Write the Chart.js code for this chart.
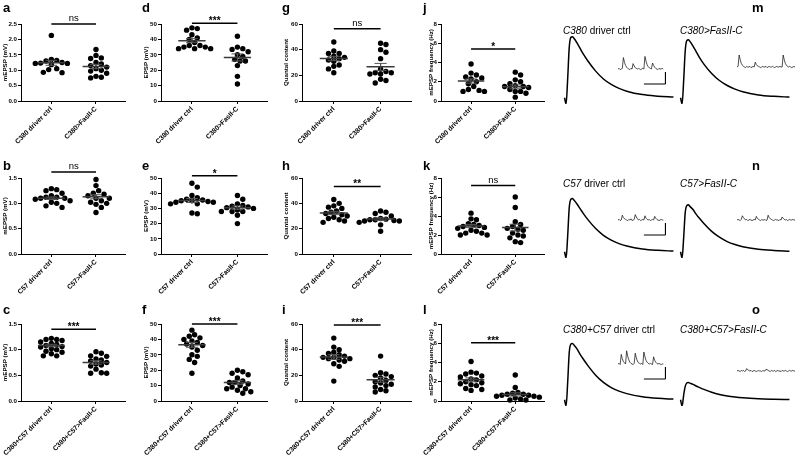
<!DOCTYPE html>
<html><head><meta charset="utf-8">
<script src="https://cdn.jsdelivr.net/npm/chart.js@4"></script>
<style>
html,body{margin:0;padding:0;background:#fff;}
body{width:800px;height:458px;position:relative;overflow:hidden;font-family:"Liberation Sans",Arial,sans-serif;}
canvas{position:absolute;}
.lt{position:absolute;font-weight:bold;font-size:13px;line-height:13px;color:#000;}
.gt{position:absolute;font-size:10px;line-height:10px;color:#000;white-space:nowrap;}
.gt i{font-style:italic;}
</style></head><body>
<script>
// ---------------- DATA ----------------
const labC380 = ['C380 driver ctrl', 'C380>FasII-C'];
const labC57 = ['C57 driver ctrl', 'C57>FasII-C'];
const labBoth = ['C380+C57 driver ctrl', 'C380+C57>FasII-C'];
const yTitles = ['mEPSP (mV)', 'EPSP (mV)', 'Quantal content', 'mEPSP frequency (Hz)'];

// panel a  (mEPSP, C380)
const a_ctrl = [2.13,1.35,1.32,1.30,1.25,1.23,1.22,1.22,1.18,1.05,1.02,0.93,0.92];
const a_fas  = [1.67,1.48,1.40,1.38,1.25,1.20,1.15,1.10,1.05,1.00,0.97,0.90,0.80,0.77,0.75];
const a_mean = [1.24,1.12]; const a_sem = [0.08,0.07]; const a_sig = ['ns',2.5];
// panel d (EPSP, C380)
const d_ctrl = [47.5,47,46,43,41,40,38,36,35,35,34,34,34,36];
const d_fas  = [42,35,34,33.5,32,30,29,27,26,26,23,16,11];
const d_mean = [39.2,28.3]; const d_sem = [1.3,2.3]; const d_sig = ['***',50.5];
// panel g (QC, C380)
const g_ctrl = [46,39,37,37,35,34,33,32,31,28,27,25,22];
const g_fas  = [45,44,40,38,33,25,23,22,22,21,21,17,16,14];
const g_mean = [33.1,26.6]; const g_sem = [1.7,2.7]; const g_sig = ['ns',56.3];
// panel j (freq, C380)
const j_ctrl = [3.85,2.9,2.7,2.5,2.4,2.3,2.0,1.8,1.5,1.2,1.1,1.0,1.0];
const j_fas  = [3.0,2.7,2.2,2.0,1.8,1.6,1.5,1.5,1.4,1.2,1.0,1.0,0.8,0.4];
const j_mean = [2.07,1.47]; const j_sem = [0.22,0.2]; const j_sig = ['*',5.4];
// panel b (mEPSP, C57)
const b_ctrl = [1.29,1.27,1.25,1.2,1.15,1.12,1.12,1.1,1.1,1.08,1.05,1.02,1.0,0.95,0.92];
const b_fas  = [1.47,1.35,1.25,1.2,1.18,1.15,1.1,1.1,1.05,1.02,1.0,0.98,0.92,0.82];
const b_mean = [1.1,1.13]; const b_sem = [0.025,0.04]; const b_sig = ['ns',1.62];
// panel e (EPSP, C57)
const e_ctrl = [46.5,44,38.5,37,36,35.5,35,35,34.5,34,34,33,33,27,26.5];
const e_fas  = [38.5,36,33,32,31.5,31,30.5,30,29,28,28,28,25.5,20];
const e_mean = [35.2,30.5]; const e_sem = [1.3,1.1]; const e_sig = ['*',51.5];
// panel h (QC, C57)
const h_ctrl = [43,40,38,37,36,34,33,32,31,30,29,28,27,26,25];
const h_fas  = [34,33,32,30,28,27.5,27,27,26.5,26,26,25,23,18];
const h_mean = [32.4,27.6]; const h_sem = [1.3,1.0]; const h_sig = ['**',53.3];
// panel k (freq, C57)
const k_ctrl = [4.3,3.7,3.6,3.2,3.1,3.0,2.9,2.8,2.7,2.5,2.4,2.2,2.2,2.0,2.0];
const k_fas  = [6.0,4.9,3.4,3.1,2.9,2.7,2.6,2.5,2.2,2.0,1.9,1.7,1.3,1.2];
const k_mean = [2.95,2.78]; const k_sem = [0.17,0.35]; const k_sig = ['ns',7.2];
// panel c (mEPSP, C380+C57)
const c_ctrl = [1.22,1.2,1.2,1.18,1.15,1.12,1.1,1.08,1.06,1.05,1.02,1.0,0.97,0.95,0.92,0.88,0.88];
const c_fas  = [0.96,0.93,0.88,0.87,0.82,0.8,0.78,0.75,0.72,0.7,0.68,0.62,0.55,0.54,0.54];
const c_mean = [1.08,0.75]; const c_sem = [0.025,0.035]; const c_sig = ['***',1.40];
// panel f (EPSP, C380+C57)
const f_ctrl = [46,43,42,41,40,39,38,37,36,35,33,30,29,27,25,18];
const f_fas  = [20,19,18,17,15,13,12,12,11,10,9,8,8,7,6,5];
const f_mean = [36.5,12]; const f_sem = [1.6,1.2]; const f_sig = ['***',50];
// panel i (QC, C380+C57)
const i_ctrl = [49,42,40,38,37,36,35,34,34,33,33,32,31,29,27,15.5];
const i_fas  = [35,22,21,20,19,18,16,15,14,13,12,11,9,8,7];
const i_mean = [34.3,16.5]; const i_sem = [1.8,1.9]; const i_sig = ['***',59.2];
// panel l (freq, C380+C57)
const l_ctrl = [4.1,3.0,2.9,2.8,2.6,2.5,2.3,2.2,2.0,1.9,1.8,1.7,1.6,1.3,1.2,1.1];
const l_fas  = [2.7,1.4,0.9,0.8,0.7,0.7,0.6,0.6,0.5,0.5,0.4,0.3,0.2,0.1,0.1];
const l_mean = [2.2,0.68]; const l_sem = [0.2,0.17]; const l_sig = ['***',6.05];

// y axis ticks
const yMaxMepsp1 = 2.5, yMaxMepsp = 1.5, yMaxEpsp = 50, yMaxQc = 60, yMaxFreq = 8;
const yStepMepsp = 0.5, yStepEpsp = 10, yStepQc = 20, yStepFreq = 2;

// EPSP traces (time ms, voltage mV)
const traceT = [0,1,2,3,4,5,6,8,10,12,15,20,25,30,35,40,50,60,70];
const m_ctrl_tr = [0,-4,12,32,38.5,39,38,35,31.5,28,23.5,17,12,8.5,6,4.2,2,1,0.4];
const m_fas_tr  = [0,-4,11,30,36.5,37,36,33,29.5,26,21.5,15.5,11,7.8,5.5,3.8,1.8,0.9,0.4];
const n_ctrl_tr = [0,-4,10,28,33.5,34,33,30.5,27.5,24.5,20.5,14.8,10.5,7.4,5.2,3.7,1.8,0.9,0.4];
const n_fas_tr  = [0,-4,9,25,29.5,30,29,27,24,21.5,18,13,9.3,6.5,4.6,3.2,1.6,0.8,0.3];
const o_ctrl_tr = [0,-4,11,30,35.5,36,35,32.5,29,26,21.8,15.7,11.1,7.8,5.5,3.9,1.9,0.9,0.4];
const o_fas_tr  = [0,-4,3,8.5,10.7,11,10.6,9.8,8.8,7.9,6.6,4.8,3.4,2.4,1.7,1.2,0.6,0.3,0.1];
// spontaneous mEPSP insets (mV, 10 ms samples)
const m_ctrl_ins = [0,0.1,-0.1,0,0.1,1.9,1.1,0.6,0.3,0.1,0,-0.1,0.1,0,0.9,0.5,0.2,0.1,0,0.1,0,-0.1,0,0.1,0,2.1,1.3,0.7,0.4,0.2,0.1,0,1.0,0.6,0.3,0.1,0,-0.1,0.1,0,0,0.1,0];
const m_fas_ins  = [0,0.1,2.0,1.2,0.6,0.3,0.1,0,-0.1,0.1,0,0,0.1,-0.1,0,0.1,0,0.8,0.4,0.2,0.1,0,-0.1,0,0.1,0,0,0.1,-0.1,0,0.1,0,0,0.1,0,-0.1,0,0.1,0,0,0.1,0,0,2.0,1.2,0.6,0.3,0.1,0,0.1,0,-0.1,0,0.1,0];
const n_ctrl_ins = [0,0.1,-0.1,0,0.8,0.4,0.2,0.1,0,-0.1,0.1,0,0.2,-0.1,0,0.1,0.9,0.5,0.2,0,0.1,-0.1,0,0.1,0,0.7,0.3,0.1,0,0.1,-0.1,0,0.1,0,0.6,0.3,0.1,0,-0.1,0,0.1,0,0];
const n_fas_ins  = [0,0.1,0,-0.1,0.1,0.7,0.4,0.2,0,0.1,-0.1,0,0.1,0,-0.1,0,0.1,0,0.6,0.3,0.1,0,-0.1,0.1,0,0,0.1,-0.1,0,0.8,0.4,0.2,0.1,0,-0.1,0,0.1,0,0,-0.1,0.1,0,0.5,0.3,0.1,0,0.1,-0.1,0,0.1,0,0,0.1,0,0];
const o_ctrl_ins = [0,0.1,-0.1,1.6,0.9,0.4,0.2,0,2.2,1.3,0.7,0.3,0.1,0,-0.1,0.1,1.8,1.0,0.5,0.2,0.1,0,0.1,-0.1,2.0,1.2,0.6,0.3,0.1,0,0.1,0,-0.1,1.2,0.6,0.3,0.1,0,0.1,0,-0.1,0,0];
const o_fas_ins  = [0,0.1,0,-0.1,0.1,0,0.1,-0.1,0,0.4,0.2,0.1,0,0.1,-0.1,0,0.1,0,-0.1,0,0.1,0,0,-0.1,0.1,0,0,0.3,0.2,0.1,0,-0.1,0.1,0,0,0.1,-0.1,0,0.1,0,0,-0.1,0.1,0,0,0.1,0,-0.1,0,0.1,0,0,0.1,0,0];
const scaleBarMV = 2, scaleBarMS = 200;

// ---------------- LAYOUT ----------------
const F = '"Liberation Sans", Arial, sans-serif';
const X_MIN = -0.68, X_MAX = 1.65;
const colAxisX = [21,161,302,441], colYW = [19,18,19,13], colPlotW = [105,107,110,104];
const rowTop = [24,178,324], rowBot = [101,254,401];
const TOPPAD = 22, XH = 58, LEXTRA = 24;

const panels = [
  {ctrl:a_ctrl,fas:a_fas,mean:a_mean,sem:a_sem,sig:a_sig,lab:labC380,t:0,yMax:yMaxMepsp1,step:yStepMepsp,dec:1,col:0,row:0},
  {ctrl:d_ctrl,fas:d_fas,mean:d_mean,sem:d_sem,sig:d_sig,lab:labC380,t:1,yMax:yMaxEpsp,step:yStepEpsp,dec:0,col:1,row:0},
  {ctrl:g_ctrl,fas:g_fas,mean:g_mean,sem:g_sem,sig:g_sig,lab:labC380,t:2,yMax:yMaxQc,step:yStepQc,dec:0,col:2,row:0},
  {ctrl:j_ctrl,fas:j_fas,mean:j_mean,sem:j_sem,sig:j_sig,lab:labC380,t:3,yMax:yMaxFreq,step:yStepFreq,dec:0,col:3,row:0},
  {ctrl:b_ctrl,fas:b_fas,mean:b_mean,sem:b_sem,sig:b_sig,lab:labC57,t:0,yMax:yMaxMepsp,step:yStepMepsp,dec:1,col:0,row:1},
  {ctrl:e_ctrl,fas:e_fas,mean:e_mean,sem:e_sem,sig:e_sig,lab:labC57,t:1,yMax:yMaxEpsp,step:yStepEpsp,dec:0,col:1,row:1},
  {ctrl:h_ctrl,fas:h_fas,mean:h_mean,sem:h_sem,sig:h_sig,lab:labC57,t:2,yMax:yMaxQc,step:yStepQc,dec:0,col:2,row:1},
  {ctrl:k_ctrl,fas:k_fas,mean:k_mean,sem:k_sem,sig:k_sig,lab:labC57,t:3,yMax:yMaxFreq,step:yStepFreq,dec:0,col:3,row:1},
  {ctrl:c_ctrl,fas:c_fas,mean:c_mean,sem:c_sem,sig:c_sig,lab:labBoth,t:0,yMax:yMaxMepsp,step:yStepMepsp,dec:1,col:0,row:2},
  {ctrl:f_ctrl,fas:f_fas,mean:f_mean,sem:f_sem,sig:f_sig,lab:labBoth,t:1,yMax:yMaxEpsp,step:yStepEpsp,dec:0,col:1,row:2},
  {ctrl:i_ctrl,fas:i_fas,mean:i_mean,sem:i_sem,sig:i_sig,lab:labBoth,t:2,yMax:yMaxQc,step:yStepQc,dec:0,col:2,row:2},
  {ctrl:l_ctrl,fas:l_fas,mean:l_mean,sem:l_sem,sig:l_sig,lab:labBoth,t:3,yMax:yMaxFreq,step:yStepFreq,dec:0,col:3,row:2}
];

function addCanvas(left, top, w, h) {
  const cv = document.createElement('canvas');
  cv.width = w; cv.height = h;
  cv.style.left = left + 'px'; cv.style.top = top + 'px';
  cv.style.width = w + 'px'; cv.style.height = h + 'px';
  document.body.appendChild(cv);
  return cv;
}
function addText(cls, html, left, top) {
  const d = document.createElement('div');
  d.className = cls; d.innerHTML = html;
  d.style.left = left + 'px'; d.style.top = top + 'px';
  document.body.appendChild(d);
}

// horizontal layout of the dots (beeswarm, in pixels)
function swarm(values, pxPerY, dia) {
  const order = values.map((v,i)=>i).sort((p,q)=>values[q]-values[p]);
  const placed = [], off = new Array(values.length).fill(0);
  for (const i of order) {
    const yp = values[i]*pxPerY;
    for (let k=0;k<60;k++) {
      const s = k===0 ? 0 : (k%2 ? Math.ceil(k/2) : -k/2);
      const xp = s*dia*0.5;
      let ok = true;
      for (const q of placed) { const dx=q[0]-xp, dy=q[1]-yp; if (dx*dx+dy*dy < dia*dia*0.9) { ok=false; break; } }
      if (ok) { off[i]=xp; placed.push([xp,yp]); break; }
    }
  }
  return off;
}

const sigPlugin = {
  id: 'sig',
  afterDatasetsDraw(chart, args, opts) {
    if (!opts || !opts.text) return;
    const {ctx, scales:{x,y}} = chart;
    const px = (x.getPixelForValue(0)+x.getPixelForValue(1))/2;
    const py = y.getPixelForValue(opts.value);
    ctx.save();
    ctx.fillStyle = '#000'; ctx.textAlign = 'center'; ctx.textBaseline = 'alphabetic';
    if (opts.text === 'ns') { ctx.font = '9.5px ' + F; ctx.fillText('ns', px, py-3); }
    else { ctx.font = 'bold 10px ' + F; ctx.fillText(opts.text, px, py+1); }
    ctx.restore();
  }
};

panels.forEach(p => {
  const ax = colAxisX[p.col], yw = colYW[p.col], pw = colPlotW[p.col];
  const top = rowTop[p.row], ph = rowBot[p.row] - rowTop[p.row];
  const W = LEXTRA + yw + pw + 3, H = TOPPAD + ph + XH;
  const cv = addCanvas(ax - yw - LEXTRA, top - TOPPAD, W, H);
  const pxY = ph / p.yMax, pxX = pw / (X_MAX - X_MIN);
  const DIA = 5.4;
  const offC = swarm(p.ctrl, pxY, DIA), offF = swarm(p.fas, pxY, DIA);
  const pts = p.ctrl.map((v,i)=>({x: 0 + offC[i]/pxX, y: v}))
      .concat(p.fas.map((v,i)=>({x: 1 + offF[i]/pxX, y: v})));
  const MW = 0.3, CW = 0.13;
  const meanData = [], semData = [];
  [0,1].forEach(g => {
    const m = p.mean[g], s = p.sem[g];
    meanData.push({x:g-MW,y:m},{x:g+MW,y:m},{x:g,y:null});
    semData.push({x:g-CW,y:m+s},{x:g+CW,y:m+s},{x:g,y:null},
                 {x:g,y:m+s},{x:g,y:m-s},{x:g,y:null},
                 {x:g-CW,y:m-s},{x:g+CW,y:m-s},{x:g,y:null});
  });
  const sigData = [{x:0,y:p.sig[1]},{x:1,y:p.sig[1]}];
  const common = {showLine:true, pointRadius:0, clip:false, spanGaps:false, fill:false};
  new Chart(cv, {
    type: 'scatter',
    data: { datasets: [
      Object.assign({data: meanData, borderColor:'#3a3a3a', borderWidth:1.5}, common),
      Object.assign({data: semData, borderColor:'#555', borderWidth:1}, common),
      Object.assign({data: sigData, borderColor:'#000', borderWidth:1.5}, common),
      {data: pts, pointRadius:2.7, pointBackgroundColor:'#000', pointBorderWidth:0, backgroundColor:'#000', showLine:false, clip:false}
    ]},
    options: {
      responsive:false, animation:false, events:[],
      layout: {padding:{top:TOPPAD, left:LEXTRA, right:3, bottom:0}},
      plugins: {legend:{display:false}, tooltip:{enabled:false}, sig:{text:p.sig[0], value:p.sig[1]}},
      scales: {
        x: {type:'linear', min:X_MIN, max:X_MAX,
          afterBuildTicks: s => { s.ticks = [{value:0},{value:1}]; },
          afterFit: s => { s.height = XH; s.paddingLeft = 0; s.paddingRight = 0; },
          ticks: {callback: v => p.lab[Math.round(v)], minRotation:45, maxRotation:45, autoSkip:false,
                  font:{size:6.8, weight:'bold', family:F}, color:'#000', padding:1},
          grid: {drawOnChartArea:false, drawTicks:true, tickLength:3, color:'#000', lineWidth:1},
          border: {display:true, color:'#000', width:1}},
        y: {type:'linear', min:0, max:p.yMax,
          afterFit: s => { s.width = yw; s.paddingTop = 0; s.paddingBottom = 0; },
          ticks: {stepSize:p.step, callback: v => Number(v).toFixed(p.dec), font:{size:6.2, weight:'bold', family:F}, color:'#000', padding:1},
          grid: {drawOnChartArea:false, drawTicks:true, tickLength:3, color:'#000', lineWidth:1},
          border: {display:true, color:'#000', width:1},
          title: {display:true, text:yTitles[p.t], font:{size:6.2, weight:'bold', family:F}, color:'#000', padding:0}}
      }
    },
    plugins: [sigPlugin]
  });
});

// panel letters
const letters = [['a',3,1],['d',142,1],['g',282,1],['j',423,1],['m',752,1],
                 ['b',3,159],['e',142,159],['h',282,159],['k',423,159],['n',752,159],
                 ['c',3,303],['f',142,303],['i',282,303],['l',423,303],['o',752,303]];
letters.forEach(l => addText('lt', l[0], l[1], l[2]));

// ---------------- TRACES ----------------
const PXMV = 1.56, TR_W = 112, TR_YMIN = -4, TR_YMAX = 42;
const traceRows = [
  {ctrl:m_ctrl_tr, fas:m_fas_tr, ci:m_ctrl_ins, fi:m_fas_ins, base:98, cib:69, fib:67, txtY:26,
   t1:'<i>C380</i> driver ctrl', t2:'<i>C380&gt;FasII-C</i>'},
  {ctrl:n_ctrl_tr, fas:n_fas_tr, ci:n_ctrl_ins, fi:n_fas_ins, base:252, cib:220, fib:220, txtY:179,
   t1:'<i>C57</i> driver ctrl', t2:'<i>C57&gt;FasII-C</i>'},
  {ctrl:o_ctrl_tr, fas:o_fas_tr, ci:o_ctrl_ins, fi:o_fas_ins, base:400, cib:364, fib:371, txtY:325,
   t1:'<i>C380+C57</i> driver ctrl', t2:'<i>C380+C57&gt;FasII-C</i>'}
];
function lineChart(cv, datasets, xr, yr) {
  new Chart(cv, {
    type:'line',
    data:{datasets},
    options:{responsive:false, animation:false, events:[],
      layout:{padding:0},
      plugins:{legend:{display:false}, tooltip:{enabled:false}},
      scales:{x:{type:'linear', min:xr[0], max:xr[1], display:false},
              y:{type:'linear', min:yr[0], max:yr[1], display:false}}}
  });
}
const INS_YMIN = -3, INS_YMAX = 2.5, INS_PX = 6;
traceRows.forEach(r => {
  const h = (TR_YMAX - TR_YMIN) * PXMV;
  const top = r.base - TR_YMAX * PXMV;
  [[r.ctrl,563],[r.fas,679]].forEach(([v,left]) => {
    const cv = addCanvas(left, top, TR_W, Math.round(h));
    lineChart(cv, [{data: traceT.map((t,i)=>({x:t,y:v[i]})), borderColor:'#000', borderWidth:1.5,
       pointRadius:0, cubicInterpolationMode:'monotone', clip:false}], [-1,71], [TR_YMIN,TR_YMAX]);
  });
  // insets
  const ih = (INS_YMAX - INS_YMIN) * INS_PX;
  const ctrlIns = r.ci.map((y,i)=>({x:i*10,y}));
  const xEnd = (r.ci.length-1)*10;
  const bar = [{x:xEnd+20,y:-0.5},{x:xEnd+20,y:-0.5-scaleBarMV},{x:xEnd+20-scaleBarMS,y:-0.5-scaleBarMV}];
  const cv1 = addCanvas(618, r.cib - INS_YMAX*INS_PX, 48, Math.round(ih));
  lineChart(cv1, [
    {data:ctrlIns, borderColor:'#222', borderWidth:0.8, pointRadius:0, clip:false},
    {data:bar, borderColor:'#000', borderWidth:1, pointRadius:0, clip:false}
  ], [0, xEnd+25], [INS_YMIN, INS_YMAX]);
  const fasIns = r.fi.map((y,i)=>({x:i*10,y}));
  const cv2 = addCanvas(737, r.fib - INS_YMAX*INS_PX, 58, Math.round(ih));
  lineChart(cv2, [{data:fasIns, borderColor:'#222', borderWidth:0.8, pointRadius:0, clip:false}],
    [0,(r.fi.length-1)*10], [INS_YMIN, INS_YMAX]);
  addText('gt', r.t1, 563, r.txtY);
  addText('gt', r.t2, 680, r.txtY);
});
</script>
</body></html>
